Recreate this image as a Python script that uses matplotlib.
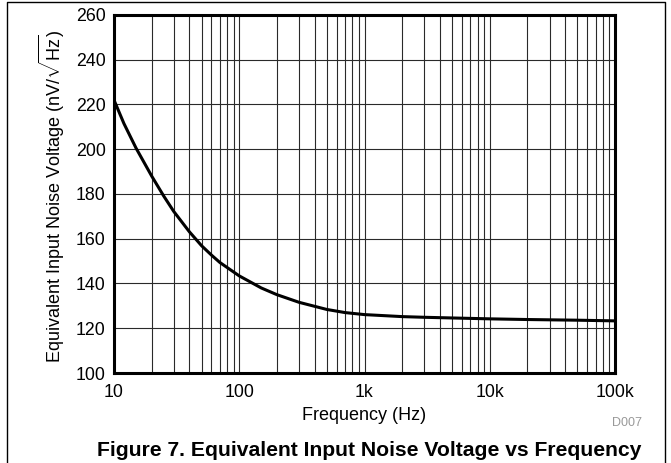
import matplotlib
matplotlib.use("Agg")
import matplotlib.pyplot as plt
from matplotlib.lines import Line2D
from matplotlib.ticker import LogLocator, NullFormatter

plt.rcParams['font.family'] = ['Liberation Sans', 'DejaVu Sans']
plt.rcParams['mathtext.fontset'] = 'custom'
plt.rcParams['mathtext.rm'] = 'Liberation Sans'
plt.rcParams['mathtext.it'] = 'Liberation Sans'

# Data
freq_hz = [10, 12, 15, 20, 25, 30, 40, 50, 60, 70, 100, 150, 200, 300, 500, 700,
           1000, 2000, 3000, 5000, 10000, 20000, 50000, 100000]
noise_nv = [222.0, 211.5, 200.5, 188.0, 179.0, 172.2, 163.1, 156.9, 152.7, 149.4,
            143.4, 138.0, 135.0, 131.6, 128.4, 127.0, 126.1, 125.2, 124.9, 124.6,
            124.2, 123.9, 123.6, 123.3]
x_ticks = [10, 100, 1000, 10000, 100000]
x_tick_labels = ['10', '100', '1k', '10k', '100k']
y_ticks = [100, 120, 140, 160, 180, 200, 220, 240, 260]

W, H = 671, 463
fig = plt.figure(figsize=(W / 100, H / 100), dpi=100)
ax = fig.add_axes([114 / W, 1 - 373 / H, 501 / W, 358 / H])

ax.plot(freq_hz, noise_nv, color='black', lw=2.2, solid_capstyle='butt',
        solid_joinstyle='round', zorder=3)
ax.set_xscale('log')
ax.set_xlim(10, 100000)
ax.set_ylim(100, 260)
ax.set_xticks(x_ticks)
ax.set_xticklabels(x_tick_labels)
ax.xaxis.set_minor_locator(LogLocator(base=10, subs=range(2, 10)))
ax.xaxis.set_minor_formatter(NullFormatter())
ax.set_yticks(y_ticks)

ax.grid(True, which='major', color='#2a2a2a', lw=0.8)
ax.grid(True, which='minor', axis='x', color='#2a2a2a', lw=0.8)
ax.tick_params(which='both', length=0, labelsize=12.8)
ax.tick_params(axis='x', pad=8)
ax.tick_params(axis='y', pad=6)
for s in ax.spines.values():
    s.set_linewidth(2.2)
    s.set_color('black')

fig.text(364 / W, 1 - 420 / H, 'Frequency (Hz)', fontsize=13, ha='center', va='baseline')
fig.text(52 / W, 1 - 196 / H, r'Equivalent Input Noise Voltage (nV/$\sqrt{\mathrm{Hz}}$)',
         fontsize=13, rotation=90, ha='center', va='center')

fig.text(627 / W, 1 - 423 / H, 'D007', fontsize=9, color='#999999', ha='center', va='center')
fig.text(369 / W, 1 - 456.5 / H, 'Figure 7. Equivalent Input Noise Voltage vs Frequency',
         fontsize=15.2, fontweight='bold', ha='center', va='baseline')

# outer frame (left, top, right)
fx0, fx1, fy0 = 7 / W, 665 / W, 1 - 2 / H
fig.add_artist(Line2D([fx0, fx0, fx1, fx1], [0, fy0, fy0, 0], transform=fig.transFigure,
                      color='black', lw=1.0))

fig.savefig('out.png', dpi=100)
